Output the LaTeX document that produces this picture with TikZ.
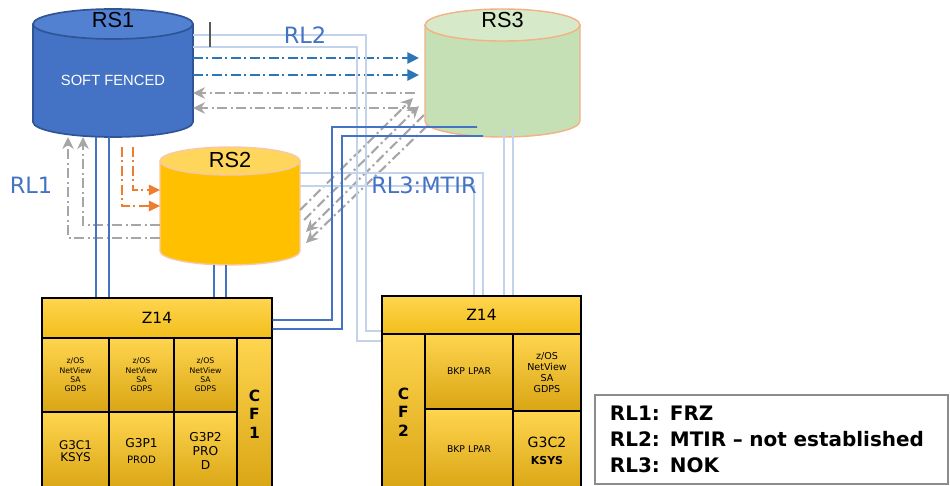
\documentclass[tikz,border=0pt]{standalone}
\usepackage{fontspec}
\setmainfont{DejaVu Sans}
\newfontfamily\rsfont{Liberation Sans}
\usepackage{tikz}
\usetikzlibrary{arrows.meta,calc,shadings}
\definecolor{rsblue}{HTML}{4472C4}
\definecolor{rsbluetop}{HTML}{5281D1}
\definecolor{rsblueedge}{HTML}{2F5597}
\definecolor{rsgold}{HTML}{FFC000}
\definecolor{rsgoldtop}{HTML}{FFD65C}
\definecolor{rsgreen}{HTML}{C5E0B4}
\definecolor{rsgreentop}{HTML}{D6EACA}
\definecolor{rsedge}{HTML}{F4B183}
\definecolor{linkblue}{HTML}{2E75B6}
\definecolor{linkgray}{HTML}{A6A6A6}
\definecolor{linkorange}{HTML}{ED7D31}
\definecolor{linkpale}{HTML}{C3D3EC}
\definecolor{zlight}{HTML}{FFD54F}
\definecolor{zmid}{HTML}{F2BE1C}
\definecolor{zdark}{HTML}{D9A514}
\tikzset{
  rsbox/.style={inner sep=0pt,outer sep=0pt},
  rstitle/.style={font=\rsfont\fontsize{15.5}{18}\selectfont,text=black},
  rltext/.style={font=\fontsize{16}{19}\selectfont,text=rsblue},
  zhead/.style={draw=black,line width=1pt,top color=zlight,bottom color=zmid,
    inner sep=0pt,font=\fontsize{11}{12}\selectfont},
  zcell/.style={draw=black,line width=1pt,top color=zlight,bottom color=zdark,
    inner sep=0pt,align=center},
  smalltext/.style={font=\fontsize{5.5}{6.6}\selectfont},
  cftext/.style={font=\bfseries\fontsize{11}{13}\selectfont},
  ddash/.style={line width=1.5pt,dash pattern=on 7pt off 2.5pt on 1.5pt off 2.5pt},
  fwdlink/.style={ddash,draw=linkblue,-{Triangle[length=2.9mm,width=2.8mm]}},
  backlink/.style={ddash,draw=linkgray,-{Stealth[length=3mm,width=2.9mm]}},
  orlink/.style={ddash,draw=linkorange,-{Triangle[length=2.8mm,width=2.6mm]}},
  palelink/.style={draw=linkpale,line width=1pt},
  bluelink/.style={draw=rsblue,line width=1.1pt},
  legendbox/.style={draw=black!45,line width=.8pt,fill=white,align=left,
    inner sep=0pt,font=\bfseries\fontsize{14.2}{18.5}\selectfont}
}
\begin{document}
\begin{tikzpicture}[x=0.025cm,y=-0.025cm]
  \useasboundingbox (0,0) rectangle (950,486);
  % RS1
  \fill[rsblue] (33,24) -- (33,122) arc[start angle=180,end angle=0,x radius=80,y radius=15] -- (193,24) -- cycle;
  \draw[rsblueedge,line width=1.2pt] (33,24) -- (33,122) arc[start angle=180,end angle=0,x radius=80,y radius=15] -- (193,24);
  \filldraw[fill=rsbluetop,draw=rsblueedge,line width=1.2pt] (113,24) ellipse[x radius=80,y radius=15];
  \node[rsbox,minimum width=4cm,minimum height=3.2cm] (rs1) at (113,73) {};
  \node[rstitle] (rs1name) at (113,20) {RS1};
  \node[font=\rsfont\fontsize{10.5}{12}\selectfont,text=white] (rs1state) at (113,80) {SOFT FENCED};
  % RS3
  \fill[rsgreen] (425,25) -- (425,121) arc[start angle=180,end angle=0,x radius=77.5,y radius=16] -- (580,25) -- cycle;
  \draw[rsedge,line width=1pt] (425,25) -- (425,121) arc[start angle=180,end angle=0,x radius=77.5,y radius=16] -- (580,25);
  \filldraw[fill=rsgreentop,draw=rsedge,line width=1pt] (502.5,25) ellipse[x radius=77.5,y radius=16];
  \node[rsbox,minimum width=3.875cm,minimum height=3.2cm] (rs3) at (502.5,73) {};
  \node[rstitle] (rs3name) at (502.5,20) {RS3};
  % RS2
  \fill[rsgold] (160,161) -- (160,251) arc[start angle=180,end angle=0,x radius=70,y radius=14] -- (300,161) -- cycle;
  \draw[rsedge!70,line width=1pt] (160,161) -- (160,251) arc[start angle=180,end angle=0,x radius=70,y radius=14] -- (300,161);
  \filldraw[fill=rsgoldtop,draw=rsedge!70,line width=1pt] (230,161) ellipse[x radius=70,y radius=14];
  \node[rsbox,minimum width=3.5cm,minimum height=2.95cm] (rs2) at (230,206) {};
  \node[rstitle] (rs2name) at (230,160) {RS2};
  % left Z14
  \node[zhead,minimum width=5.75cm,minimum height=1cm] (zlhead) at (157,318) {Z14};
  \node[zcell,smalltext,minimum width=1.675cm,minimum height=1.85cm] (zla) at (75.5,375) {z/OS\\NetView\\SA\\GDPS};
  \node[zcell,smalltext,minimum width=1.625cm,minimum height=1.85cm] (zlb) at (141.5,375) {z/OS\\NetView\\SA\\GDPS};
  \node[zcell,smalltext,minimum width=1.575cm,minimum height=1.85cm] (zlc) at (205.5,375) {z/OS\\NetView\\SA\\GDPS};
  \node[zcell,font=\fontsize{8.5}{9}\selectfont,minimum width=1.675cm,minimum height=1.95cm] (zld) at (75.5,451) {G3C1\\KSYS};
  \node[zcell,minimum width=1.625cm,minimum height=1.95cm] (zle) at (141.5,451) {\fontsize{8.7}{9.5}\selectfont G3P1\\\fontsize{7.2}{8}\selectfont PROD};
  \node[zcell,font=\fontsize{8.7}{9.9}\selectfont,minimum width=1.575cm,minimum height=1.95cm] (zlf) at (205.5,451) {G3P2\\PRO\\D};
  \node[zcell,cftext,minimum width=.875cm,minimum height=3.8cm] (cfone) at (254.5,414) {C\\F\\1};
  % right Z14
  \node[zhead,minimum width=4.975cm,minimum height=.95cm] (zrhead) at (481.5,315) {Z14};
  \node[zcell,cftext,minimum width=1.075cm,minimum height=3.9cm] (cftwo) at (403.5,412) {C\\F\\2};
  \node[zcell,line width=1.5pt,font=\fontsize{6.6}{8}\selectfont,minimum width=2.2cm,minimum height=1.875cm] (bkpa) at (469,371.5) {BKP LPAR};
  \node[zcell,line width=1.5pt,font=\fontsize{6.6}{8}\selectfont,minimum width=2.2cm,minimum height=2.025cm] (bkpb) at (469,449.5) {BKP LPAR};
  \node[zcell,font=\fontsize{6.8}{7.9}\selectfont,minimum width=1.7cm,minimum height=1.925cm] (zra) at (547,372.5) {z/OS\\NetView\\SA\\GDPS};
  \node[zcell,minimum width=1.7cm,minimum height=1.975cm] (zrb) at (547,450.5) {\fontsize{10}{11}\selectfont G3C2\\\bfseries\fontsize{7.8}{9}\selectfont KSYS};
  % links RS1 - RS3
  \draw[fwdlink] (rs1.east |- 0,58) -- ($(rs3.west |- 0,58)+(-6,0)$);
  \draw[fwdlink] (rs1.east |- 0,75) -- ($(rs3.west |- 0,75)+(-6,0)$);
  \draw[backlink] ($(rs3.west |- 0,93)+(-10,0)$) -- (rs1.east |- 0,93);
  \draw[backlink] ($(rs3.west |- 0,108)+(-8,0)$) -- (rs1.east |- 0,108);
  % links RS2 - RS3
  \draw[backlink] (rs2.east |- 0,210) -- ($(rs3.west |- 0,98)+(-12,0)$);
  \draw[backlink] ($(rs2.east |- 0,220)+(4,0)$) -- ($(rs3.west |- 0,106)+(-6,0)$);
  \draw[backlink] ($(rs3.west |- 0,115)+(-1,0)$) -- ($(rs2.east |- 0,232)+(6,0)$);
  \draw[backlink] ($(rs3.west |- 0,126)+(2,0)$) -- ($(rs2.east |- 0,243)+(6,0)$);
  % RL1
  \draw[backlink] (rs2.west |- 0,225) -| (83,0 |- rs1.south);
  \draw[backlink] (rs2.west |- 0,238) -| (68,0 |- rs1.south);
  \draw[orlink] ($(133,0 |- rs1.south)+(0,10)$) |- (rs2.west |- 0,190);
  \draw[orlink] ($(122,0 |- rs1.south)+(0,10)$) |- (rs2.west |- 0,206);
  % RL2
  \draw[palelink] (rs1.east |- 0,35) -| (366,331) -- (zrhead.west |- 0,331);
  \draw[palelink] (rs1.east |- 0,47) -| (357,341) -- (cftwo.west |- 0,341);
  \draw[black!65,line width=1pt] (210,22) -- (210,47);
  % RL3
  \draw[palelink] (rs2.east |- 0,173) -| (zrhead.north -| 483,0);
  \draw[palelink] (rs2.east |- 0,186) -| (zrhead.north -| 474,0);
  \draw[palelink] ($(rs3.south)+(1.5,-9)$) coordinate (rsa) -- (rsa |- zrhead.north);
  \draw[palelink] ($(rs3.south)+(10.5,-9)$) coordinate (rsb) -- (rsb |- zrhead.north);
  % Z14 to RS3 and RS1 / RS2
  \draw[bluelink] (zlhead.east |- 0,320) -| (332,127) -- ($(rs3.south)+(-25.5,-10)$);
  \draw[bluelink] (zlhead.east |- 0,329) -| (342,136) -- ($(rs3.south)+(-19.5,-1)$);
  \draw[bluelink] (96,0 |- rs1.south) -- (96,0 |- zlhead.north);
  \draw[bluelink] (109,0 |- rs1.south) -- (109,0 |- zlhead.north);
  \draw[bluelink] (214,0 |- rs2.south) -- (214,0 |- zlhead.north);
  \draw[bluelink] (226,0 |- rs2.south) -- (226,0 |- zlhead.north);
  % labels
  \node[rltext] (rlone) at (31,185) {RL1};
  \node[rltext] (rltwo) at (305,35) {RL2};
  \node[rltext] (rlthree) at (424,185) {RL3:MTIR};
  \node[legendbox,minimum width=8.825cm,minimum height=2.225cm,text width=8.075cm] (legend) at (771.5,439.5)
    {RL1: FRZ\\RL2: MTIR -- not established\\RL3: NOK};
\end{tikzpicture}
\end{document}
